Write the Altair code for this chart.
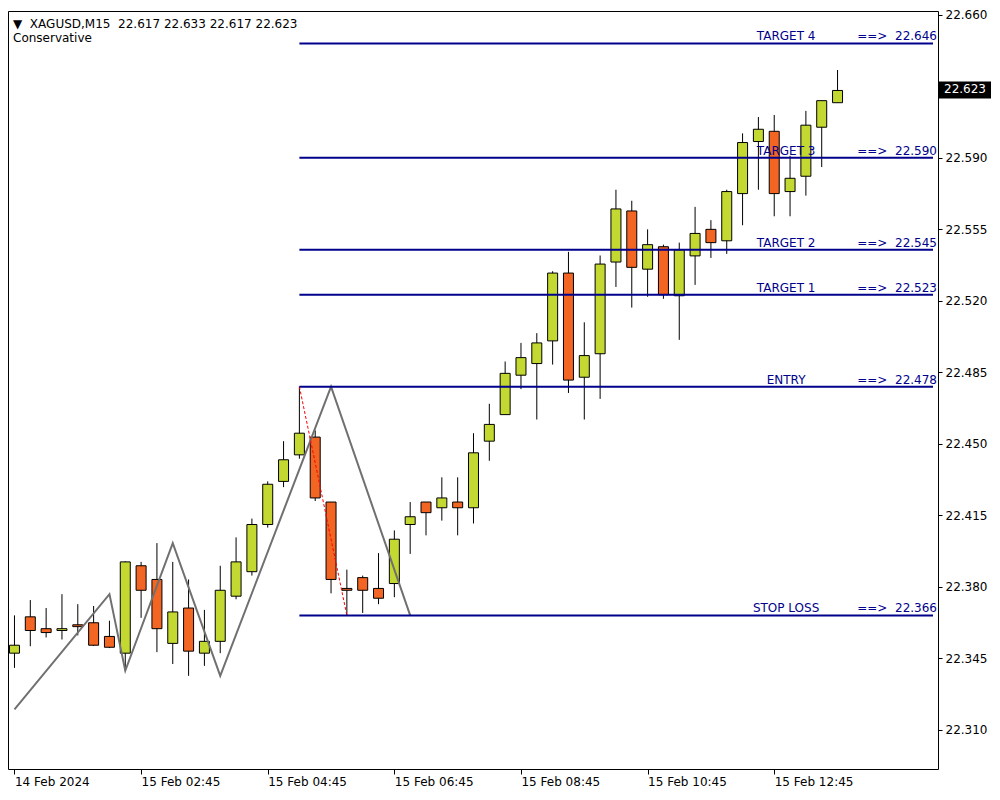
import altair as alt
import pandas as pd

# ---------------- data ----------------
symbol = "XAGUSD,M15"
indicator_name = "Conservative"

opens = [22.3475, 22.3653, 22.3595, 22.3586, 22.3614, 22.3624, 22.3557, 22.3475, 22.3903, 22.3836,
         22.3523, 22.3696, 22.3475, 22.3533, 22.3754, 22.3874, 22.4105, 22.4316, 22.4446, 22.4533,
         22.4215, 22.3792, 22.3845, 22.3792, 22.3816, 22.4105, 22.4215, 22.4187, 22.4215, 22.4187,
         22.4513, 22.4643, 22.4836, 22.4893, 22.5004, 22.5336, 22.4826, 22.4941, 22.5390, 22.5640,
         22.5355, 22.5465, 22.5225, 22.5420, 22.5550, 22.5494, 22.5725, 22.5980, 22.6030, 22.5735,
         22.5810, 22.6050, 22.6170]
highs = [22.3660, 22.3735, 22.3696, 22.3764, 22.3715, 22.3706, 22.3634, 22.3925, 22.3922, 22.4014,
         22.3922, 22.3836, 22.3687, 22.3903, 22.4042, 22.4134, 22.4316, 22.4513, 22.4780, 22.4566,
         22.4215, 22.3884, 22.3855, 22.3965, 22.4076, 22.4215, 22.4215, 22.4336, 22.4336, 22.4552,
         22.4696, 22.4903, 22.4994, 22.5042, 22.5345, 22.5440, 22.5095, 22.5422, 22.5744, 22.5690,
         22.5550, 22.5475, 22.5485, 22.5660, 22.5595, 22.5744, 22.6020, 22.6100, 22.6110, 22.5910,
         22.6130, 22.6180, 22.6330]
lows = [22.3403, 22.3509, 22.3552, 22.3542, 22.3562, 22.3510, 22.3500, 22.3389, 22.3648, 22.3480,
        22.3422, 22.3364, 22.3413, 22.3475, 22.3739, 22.3855, 22.4090, 22.4288, 22.4427, 22.4220,
        22.3768, 22.3660, 22.3672, 22.3715, 22.3749, 22.3961, 22.4052, 22.4124, 22.4052, 22.4110,
        22.4417, 22.4643, 22.4768, 22.4619, 22.4888, 22.4749, 22.4619, 22.4720, 22.5268, 22.5167,
        22.5220, 22.5210, 22.5009, 22.5278, 22.5410, 22.5430, 22.5570, 22.5744, 22.5614, 22.5614,
        22.5715, 22.5855, 22.6170]
closes = [22.3514, 22.3586, 22.3576, 22.3595, 22.3605, 22.3514, 22.3504, 22.3922, 22.3783, 22.3595,
          22.3677, 22.3485, 22.3533, 22.3783, 22.3922, 22.4105, 22.4302, 22.4422, 22.4552, 22.4235,
          22.3836, 22.3783, 22.3783, 22.3744, 22.4033, 22.4143, 22.4163, 22.4235, 22.4187, 22.4456,
          22.4595, 22.4845, 22.4922, 22.4994, 22.5336, 22.4812, 22.4932, 22.5380, 22.5650, 22.5364,
          22.5475, 22.5230, 22.5450, 22.5530, 22.5485, 22.5735, 22.5975, 22.6040, 22.5725, 22.5800,
          22.6060, 22.6180, 22.6230]

tick_bars = [0, 8, 16, 24, 32, 40, 48]
tick_labels = ["14 Feb 2024", "15 Feb 02:45", "15 Feb 04:45", "15 Feb 06:45",
               "15 Feb 08:45", "15 Feb 10:45", "15 Feb 12:45"]
y_ticks = [22.310, 22.345, 22.380, 22.415, 22.450, 22.485, 22.520, 22.555, 22.590, 22.660]

zigzag_bars = [0, 6, 7, 10, 13, 20, 25]
zigzag_prices = [22.3200, 22.3764, 22.3389, 22.4014, 22.3364, 22.4780, 22.3660]

swing_bars = [18, 21]
swing_prices = [22.478, 22.366]

level_names = ["TARGET 4", "TARGET 3", "TARGET 2", "TARGET 1", "ENTRY", "STOP LOSS"]
level_prices = [22.646, 22.590, 22.545, 22.523, 22.478, 22.366]
level_start_bar = 18
level_label_bar = 48.75

# ---------------- layout / style ----------------
W, H = 930, 758
X_MIN = -1.5 / 16
X_MAX = X_MIN + W / 16
Y_MIN, Y_MAX = 22.2908, 22.6619
FONT = "DejaVu Sans"
GREEN = "#C3D831"
ORANGE = "#F26522"
NAVY = "#00008B"
NB = "\u00A0"

df = pd.DataFrame({"bar": list(range(len(opens))), "open": opens, "high": highs,
                   "low": lows, "close": closes})
df["dir"] = ["up" if c >= o else "down" for o, c in zip(opens, closes)]

zz = pd.DataFrame({"bar": zigzag_bars, "price": zigzag_prices})
sw = pd.DataFrame({"bar": swing_bars, "price": swing_prices})
lv = pd.DataFrame({"name": level_names, "price": level_prices})
lv["start"] = level_start_bar
lv["end"] = X_MAX
lv["label_bar"] = level_label_bar
lv["value_text"] = ["==>" + NB + " " + f"{p:.3f}" for p in level_prices]

last = df.iloc[-1]
cur = pd.DataFrame({"price": [last["close"]], "txt": [f"{last['close']:.3f}"]})
head = pd.DataFrame({
    "line1": ["\u25BC" + NB + " " + symbol + NB + " "
              + f"{last['open']:.3f} {last['high']:.3f} {last['low']:.3f} {last['close']:.3f}"],
    "line2": [indicator_name],
})

xs = alt.Scale(domain=[X_MIN, X_MAX], nice=False, zero=False)
ys = alt.Scale(domain=[Y_MIN, Y_MAX], nice=False, zero=False)

label_expr = "[" + ",".join(f"'{t}'" for t in tick_labels) + "][round(datum.value/8)]"

x_axis = alt.Axis(values=tick_bars, labelExpr=label_expr, title=None, grid=False,
                  tickSize=5, labelAlign="left", labelBaseline="top", labelPadding=2,
                  domain=False, tickColor="black", labelFlush=False, labelOverlap=False,
                  labelFont=FONT, labelFontSize=12, labelColor="black")
y_axis = alt.Axis(values=y_ticks, format=".3f", orient="right", title=None, grid=False,
                  tickSize=4, labelPadding=3, domain=False, tickColor="black",
                  labelBaseline="middle", labelAlign="left", labelFlush=False,
                  labelOverlap=False, labelFont=FONT, labelFontSize=12, labelColor="black")


def X(field):
    return alt.X(field, scale=xs, axis=x_axis)


def Y(field):
    return alt.Y(field, scale=ys, axis=y_axis)


base = alt.Chart(df)

wicks = base.mark_rule(color="black", strokeWidth=1, clip=True).encode(
    x=X("bar:Q"), y=Y("low:Q"), y2="high:Q",
)

bodies = base.mark_bar(width=10, stroke="black", strokeWidth=1, clip=True, opacity=1).encode(
    x=X("bar:Q"), y=Y("open:Q"), y2="close:Q",
    color=alt.Color("dir:N", scale=alt.Scale(domain=["up", "down"], range=[GREEN, ORANGE]),
                    legend=None),
)

zigzag = alt.Chart(zz).mark_line(color="#707070", strokeWidth=2, clip=True).encode(
    x=X("bar:Q"), y=Y("price:Q"),
)

swing = alt.Chart(sw).mark_line(color="#FF0000", strokeWidth=1, strokeDash=[3, 2],
                                clip=True).encode(
    x=X("bar:Q"), y=Y("price:Q"),
)

levels = alt.Chart(lv).mark_rule(color=NAVY, strokeWidth=2).encode(
    x=X("start:Q"), x2="end:Q", y=Y("price:Q"),
)

level_labels = alt.Chart(lv).mark_text(font=FONT, fontSize=12, color=NAVY, align="center",
                                       baseline="alphabetic", dy=-3).encode(
    x=X("label_bar:Q"), y=Y("price:Q"), text="name:N",
)

level_values = alt.Chart(lv).mark_text(font=FONT, fontSize=12, color=NAVY, align="right",
                                       baseline="alphabetic", dy=-3).encode(
    x=alt.value(W - 1), y=Y("price:Q"), text="value_text:N",
)

cur_box = alt.Chart(cur).mark_rect(color="black", yOffset=-9, y2Offset=8, clip=False).encode(
    x=alt.value(W + 1), x2=alt.value(W + 53), y=Y("price:Q"), y2="price:Q",
)

cur_text = alt.Chart(cur).mark_text(font=FONT, fontSize=12, color="white", align="left",
                                    baseline="middle", clip=False, dy=-1).encode(
    x=alt.value(W + 6), y=Y("price:Q"), text="txt:N",
)

head1 = alt.Chart(head).mark_text(font=FONT, fontSize=12, color="black", align="left",
                                  baseline="middle").encode(
    x=alt.value(5), y=alt.value(13), text="line1:N")
head2 = alt.Chart(head).mark_text(font=FONT, fontSize=12, color="black", align="left",
                                  baseline="middle").encode(
    x=alt.value(5), y=alt.value(27), text="line2:N")

chart = alt.layer(
    wicks, bodies, zigzag, swing, levels, level_labels, level_values,
    cur_box, cur_text, head1, head2,
).properties(
    width=W, height=H, background="white", padding=0,
).configure_view(
    stroke="black", strokeWidth=1,
)

chart.save("out.html", embed_options={"renderer": "svg", "actions": False})
